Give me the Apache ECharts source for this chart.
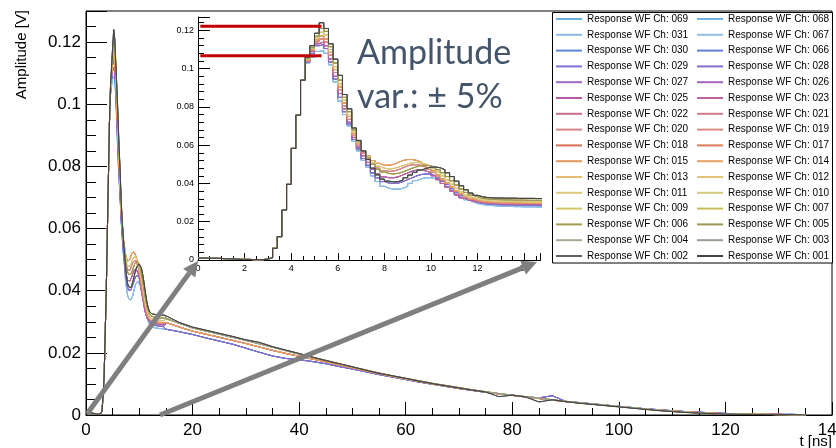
<!DOCTYPE html>
<html><head><meta charset="utf-8">
<script src="https://cdn.jsdelivr.net/npm/echarts@6/dist/echarts.min.js"></script>
<style>html,body{margin:0;padding:0;background:#fff}#c{width:836px;height:448px}</style>
</head><body><div id="c"></div>
<script>
// ---------------- DATA ----------------
// channels in legend order (row-major, 2 columns x 16 rows)
const channels = ['069','068','031','067','030','066','029','028','027','026','025','023','022','021','020','019',
                  '018','017','015','014','013','012','011','010','009','007','006','005','004','003','002','001'];
const channelColors = ['#6aaee0','#70b2e2','#8bbbe6','#92bfe6','#5b87d9','#6180d6','#7b72d2','#8a6dca',
                       '#9b67c2','#a663b9','#b25ea2','#ba639c','#c96b8f','#d07a8b','#d6858a','#da8c84',
                       '#d86e52','#db7b57','#e3965c','#e5a263','#e6bb73','#e5c37b','#dcc87e','#d5ca82',
                       '#d2c764','#c8bd5e','#a59c4f','#9c9553','#a7a995','#9a9a91','#626262','#444444'];
// which waveform shape each legend row (pair of channels) follows
const rowBody = ['A','A','B','B','C','C','D','D','E','E','F','F','G','G','H','H'];
const rowTail = ['lo','lo','lo','lo','mid','mid','mid','mid','mid','mid','ol','ol','ol','ol','ol','hi'];

// fine time bins (ns, bin start), 0.2 ns wide
const tFine = [0,0.2,0.4,0.6,0.8,1,1.2,1.4,1.6,1.8,2,2.2,2.4,2.6,2.8,3,3.2,3.4,3.6,3.8,4,4.2,4.4,
  4.6,4.8,5,5.2,5.4,5.6,5.8,6,6.2,6.4,6.6,6.8,7,7.2,7.4,7.6,7.8,8,8.2,8.4,8.6,8.8,9,9.2,9.4,9.6,9.8,
  10,10.2,10.4,10.6,10.8,11,11.2,11.4,11.6,11.8,12,12.2,12.4,12.6,12.8,13,13.2,13.4,13.6,13.8,14,14.2,14.4,14.6,14.8];
// common leading edge (mV), t = 0 .. 4.4
const riseMV = [1.0,1.0,0.9,0.9,0.8,0.7,0.6,0.5,0.4,0.3,0.3,0.2,0.2,0.2,0.5,1.2,6.1,12.2,26.1,39.5,58.3,75.7,94.0];
// pulse body (mV), t = 4.6 .. 14.8
const bodyA = [103,106,109,109.5,108,102,93,83,76,70, 62,57,52,48.5,44,41,38.5,37.5,37,37, 37.5,38.5,40,41.5,42.5,43,43,42.5,41.5,40,
  38.5,36.5,34.5,33,31.5,30.5,29.5,29,28.7,28.5, 28.3,28.1,28,28,27.9,27.9,27.8,27.8,27.8,27.7, 27.7,27.7];
const bodyB = [103.5,108,112,112.5,110.5,103.5,94.5,85,77.5,71, 63,58,53,49.5,45.5,43,41,40.2,40,40.2, 41,42,43,44,44.7,45,44.8,44,42.8,41.2,
  39.5,37.5,35.5,33.8,32.3,31.2,30.3,29.7,29.4,29.2, 29,28.9,28.8,28.8,28.7,28.7,28.6,28.6,28.5,28.5, 28.4,28.4];
const bodyC = [104,109,113,114,112,105,96,87,79,72, 64,59,54.5,51,47.5,45,43.5,43,43,43.5, 44.5,45.5,46.5,47,47,46.5,45.5,44,42,40,
  38,36,34,32.5,31.5,30.8,30.3,30,29.8,29.6, 29.5,29.4,29.3,29.3,29.2,29.2,29.1,29.1,29,29, 29,28.9];
const bodyD = [104,109.5,114,115.5,114,107,98,89,80.5,73.5, 65,60,56,53,50,48,46.8,46.3,46.5,47.2, 48.2,49.2,49.8,49.8,49.3,48.5,47.3,45.8,44,42,
  40,38,36,34.3,32.8,31.7,31,30.5,30.2,30, 29.9,29.8,29.8,29.7,29.7,29.6,29.6,29.6,29.5,29.5, 29.5,29.5];
const bodyE = [104.5,110,115,117,115.5,108.5,99.5,90.5,82,75, 66,61,57,54.5,52,50.5,49.5,49.5,50,51, 52,52.5,52.5,52,51,49.8,48.3,46.5,44.5,42.3,
  40.2,38.2,36.3,34.6,33.2,32.1,31.3,30.8,30.5,30.3, 30.2,30.1,30,30,29.9,29.9,29.8,29.8,29.8,29.7, 29.7,29.7];
const bodyF = [105,110.5,116,119,117.5,110,101,92,83.5,76, 67,61.5,57,54,51,49,48,47.6,47.8,48.5, 49.3,50.2,50.8,51,50.7,50,49,47.7,46,44,
  41.8,39.6,37.5,35.6,34,32.8,32,31.4,31.1,30.9, 30.8,30.7,30.6,30.6,30.5,30.5,30.5,30.4,30.4,30.4, 30.3,30.3];
const bodyG = [105.5,111,117,121,119.5,111.5,103,94,85,77.5, 68,62,57,53.5,50,47.5,46,45.2,45,45.3, 46,47,48,48.8,49.3,49.5,49.2,48.4,47.2,45.6,
  43.6,41.4,39.2,37.1,35.3,33.9,33,32.3,31.9,31.7, 31.6,31.5,31.4,31.4,31.3,31.3,31.3,31.2,31.2,31.2, 31.1,31.1];
const bodyH = [106,112,118.5,124,121,113,105,96.5,86.5,79, 69,62.5,57,52.5,48,44.5,42.3,41.2,40.8,41, 41.8,43,44.4,45.8,47,47.9,48.5,48.6,48.2,47.2,
  45.6,43.6,41.2,38.8,36.7,35,33.8,33.1,32.7,32.5, 32.4,32.4,32.3,32.3,32.3,32.2,32.2,32.2,32.2,32.1, 32.1,32.1];
// long tail (mV), coarse time points
const tTail = [15,17.5,20,22.5,25,27.5,30,32.5,35,37.5,40,42.5,45,47.5,50,52.5,55,57.5,60,62.5,65,67.5,70,72.5,75,77.5,80,82.5,85,87.5,
  90,92.5,95,97.5,100,102.5,105,107.5,110,112.5,115,117.5,120,122.5,125,127.5,130,132.5,135];
const tailHi = [31.8,29.8,28.3,27.3,26.3,25.3,24.2,23.4,22.0,20.9, 19.8,18.6,17.5,16.5,15.5,14.4,13.4,12.6,11.8,10.9,
  10.1,9.4,8.7,8.0,7.4,5.9,6.4,5.8,4.2,4.9, 4.3,3.8,3.4,3.0,2.6,2.2,1.8,1.4,1.1,0.8, 0.6,0.4,0.3,0.2,0.2,0.1,0.1,0.1,0.0];
const tailOl = [31.2,29.5,28.0,27.0,26.0,25.0,24.0,22.9,21.8,20.7, 19.6,18.6,17.6,16.5,15.5,14.5,13.5,12.6,11.8,11.0,
  10.2,9.5,8.8,8.1,7.5,6.9,6.4,5.9,5.4,4.9, 4.4,3.9,3.5,3.1,2.7,2.3,1.9,1.5,1.2,0.9, 0.7,0.5,0.4,0.3,0.2,0.2,0.1,0.1,0.0];
const tailMid = [29.8,28.3,27.0,26.0,25.0,24.0,23.0,21.9,20.8,19.8, 18.9,18.0,17.1,16.1,15.2,14.2,13.3,12.4,11.6,10.8,
  10.0,9.3,8.6,8.0,7.4,6.8,6.3,5.8,5.3,4.8, 4.3,3.9,3.5,3.1,2.7,2.3,1.9,1.6,1.3,1.0, 0.8,0.6,0.4,0.3,0.3,0.2,0.2,0.1,0.1];
const tailLo = [27.6,26.8,25.9,24.8,23.8,22.8,21.5,20.2,19.0,18.2, 17.8,17.2,16.5,15.6,14.8,13.9,13.0,12.2,11.4,10.6,
  9.9,9.2,8.5,7.9,7.3,6.8,6.3,5.9,5.5,6.2, 4.4,4.0,3.6,3.2,2.8,2.4,2.0,1.7,1.4,1.1, 0.9,0.7,0.5,0.4,0.3,0.3,0.2,0.2,0.1];
// annotation: max / min pulse amplitude (V) and the time span of the red markers
const ampMarks = [0.1222, 0.1067];
const ampMarkSpan = [0.1, 5.3];
// axis ticks
const mainX = {min:0, max:140, major:20, minor:5};
const mainY = {min:0, max:0.13, major:0.02, minor:0.005};
const insetX = {min:0, max:14.7, major:2, minor:0.5};
const insetY = {min:0, max:0.127, major:0.02, minor:0.004};

// ---------------- BUILD ----------------
const bodies = {A:bodyA,B:bodyB,C:bodyC,D:bodyD,E:bodyE,F:bodyF,G:bodyG,H:bodyH};
const tails = {hi:tailHi, ol:tailOl, mid:tailMid, lo:tailLo};
const FONT = "'Liberation Sans', Arial, Helvetica, sans-serif";

function channelData(row){
  const fine = riseMV.concat(bodies[rowBody[row]]);
  const pts = tFine.map((t,i)=>[t, fine[i]/1000]);
  const tl = tails[rowTail[row]];
  tTail.forEach((t,i)=>pts.push([t, tl[i]/1000]));
  return pts;
}
function isMult(v, step){ const k = v/step; return Math.abs(k-Math.round(k)) < 1e-6; }
function fmt(v){ return String(+v.toFixed(4)); }

function axisPair(dim, grid, cfg, majorLen, minorLen, fontSize, margin){
  const common = {gridIndex:grid, type:'value', min:cfg.min, max:cfg.max, position: dim==='x'?'bottom':'left',
    splitLine:{show:false}, axisPointer:{show:false}};
  const major = Object.assign({}, common, {
    interval: cfg.major,
    axisLine:{show:true, onZero:false, lineStyle:{color:'#000', width:1}},
    axisTick:{show:true, inside:true, length:majorLen, lineStyle:{color:'#000', width:1}},
    axisLabel:{show:true, color:'#000', fontSize:fontSize, fontFamily:FONT, margin:margin,
      showMaxLabel:true, formatter:(v)=> isMult(v, cfg.major) ? fmt(v) : ''}
  });
  const minor = Object.assign({}, common, {
    interval: cfg.minor,
    axisLine:{show:false, onZero:false},
    axisTick:{show:true, inside:true, length:minorLen, lineStyle:{color:'#000', width:1}},
    axisLabel:{show:false}
  });
  return [major, minor];
}

const xAxes = axisPair('x',0,mainX,13,7,17,7).concat(axisPair('x',1,insetX,7,4,9,4));
const yAxes = axisPair('y',0,mainY,21,10,17,5).concat(axisPair('y',1,insetY,12,6,9,4));

const series = [];
channels.forEach((ch,i)=>{
  const row = Math.floor(i/2);
  const data = channelData(row);
  const name = 'Response WF Ch: ' + ch;
  const base = {type:'line', name, data, symbol:'none', showSymbol:false, silent:true, animation:false,
    lineStyle:{width:1, color:channelColors[i]}, itemStyle:{color:channelColors[i]}, emphasis:{disabled:true}};
  series.push(Object.assign({}, base, {xAxisIndex:0, yAxisIndex:0}));
  series.push(Object.assign({}, base, {xAxisIndex:2, yAxisIndex:2, step:'end'}));
});
ampMarks.forEach((a,k)=>{
  series.push({type:'line', name:'amp'+k, xAxisIndex:2, yAxisIndex:2, symbol:'none', silent:true, z:5,
    data: ampMarkSpan.map(t=>[t,a]), lineStyle:{color:'#c00000', width:3}});
});

const col1 = [], col2 = [];
channels.forEach((ch,i)=> (i%2===0 ? col1 : col2).push('Response WF Ch: ' + ch));
function legendCol(left, data){
  return {orient:'vertical', left:left, top:13, padding:0, itemWidth:26, itemHeight:2, itemGap:3.8,
    icon:'rect', selectedMode:false, data:data,
    textStyle:{fontSize:10, lineHeight:12, color:'#000', fontFamily:FONT}};
}

function arrow(x1,y1,x2,y2){
  const dx=x2-x1, dy=y2-y1, L=Math.hypot(dx,dy), ux=dx/L, uy=dy/L, hl=15, hw=7.5;
  const bx=x2-ux*hl, by=y2-uy*hl;
  return [
    {type:'line', z:50, shape:{x1:x1,y1:y1,x2:bx,y2:by}, style:{stroke:'#7f7f7f', lineWidth:5}},
    {type:'polygon', z:50, shape:{points:[[x2,y2],[bx-uy*hw,by+ux*hw],[bx+uy*hw,by-ux*hw]]}, style:{fill:'#7f7f7f'}}
  ];
}

const graphic = [
  {type:'rect', z:3, shape:{x:552.5, y:12.5, width:280, height:250.5}, style:{fill:'#fff', stroke:'#000', lineWidth:1}},
  {type:'text', z:10, x:22, y:10, rotation:Math.PI/2,
    style:{text:'Amplitude [V]', align:'right', verticalAlign:'middle', fontSize:15, fontFamily:FONT, fill:'#000'}},
  {type:'text', z:10, x:832, y:442,
    style:{text:'t [ns]', align:'right', verticalAlign:'middle', fontSize:15, fontFamily:FONT, fill:'#000'}},
  {type:'text', z:10, x:357, y:36,
    style:{text:'Amplitude', align:'left', verticalAlign:'top', fontSize:34, fontFamily:'Lato, "Open Sans", sans-serif', fill:'#44546a'}},
  {type:'text', z:10, x:357, y:80,
    style:{text:'var.: \u00b1 5%', align:'left', verticalAlign:'top', fontSize:34, fontFamily:'Lato, "Open Sans", sans-serif', fill:'#44546a'}}
].concat(arrow(87,414,198,261)).concat(arrow(160,415,537,262));

const chart = echarts.init(document.getElementById('c'), null, {renderer:'canvas'});
chart.setOption({
  animation:false,
  backgroundColor:'#fff',
  grid:[
    {left:86, top:11, width:746, height:404, show:true, borderColor:'#000', borderWidth:1, backgroundColor:'transparent', containLabel:false, outerBoundsMode:'none'},
    {left:198, top:17, width:342.5, height:243, show:false, containLabel:false, outerBoundsMode:'none'}
  ],
  xAxis:xAxes,
  yAxis:yAxes,
  legend:[legendCol(556, col1), legendCol(697, col2)],
  series:series,
  graphic:graphic
});
</script></body></html>
